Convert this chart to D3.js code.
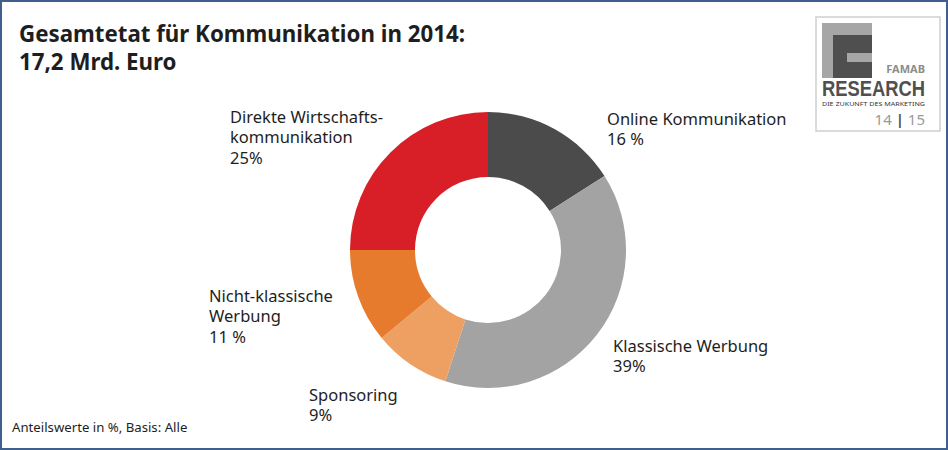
<!DOCTYPE html>
<html>
<head>
<meta charset="utf-8">
<script src="https://cdn.jsdelivr.net/npm/d3@7"></script>
<style>
  body { margin: 0; background: #fff; }
  svg { display: block; }
  text { font-family: "Noto Sans", "Open Sans", sans-serif; fill: #1e1e1e; }
</style>
</head>
<body>
<svg></svg>
<script>
// shares of the total budget, clockwise from 12 o'clock
var categories = ["Online Kommunikation", "Klassische Werbung", "Sponsoring",
                  "Nicht-klassische Werbung", "Direkte Wirtschaftskommunikation"];
var values = [16, 39, 9, 11, 25];
var valueLabels = ["16 %", "39%", "9%", "11 %", "25%"];
// how each label is broken into lines in the picture
var labelLines = [
    ["Online Kommunikation"],
    ["Klassische Werbung"],
    ["Sponsoring"],
    ["Nicht-klassische", "Werbung"],
    ["Direkte Wirtschafts-", "kommunikation"]
];
var colors = ["#4b4b4b", "#a3a3a3", "#ee9f62", "#e77b2d", "#d81f27"];

window.onload = function(){
    var width = 948, height = 450;
    var svg = d3.select("svg")
        .attr("width", width)
        .attr("height", height);

    svg.append("rect")
        .attr("x", 1).attr("y", 1)
        .attr("width", width - 2).attr("height", height - 2)
        .attr("fill", "#fff")
        .attr("stroke", "#3f5f8d")
        .attr("stroke-width", 2);

    // title
    var title = svg.append("text")
        .attr("x", 19).attr("y", 42)
        .style("font-size", "22.3px")
        .style("font-weight", "bold");
    title.append("tspan").attr("x", 19).text("Gesamtetat für Kommunikation in 2014:");
    title.append("tspan").attr("x", 19).attr("dy", 27.5).text("17,2 Mrd. Euro");

    svg.append("text")
        .attr("x", 12).attr("y", 432)
        .style("font-size", "13.2px")
        .text("Anteilswerte in %, Basis: Alle");

    // donut
    var cx = 488, cy = 250;
    var pie = d3.pie().sort(null).value(function(d){ return d; });
    var arc = d3.arc().innerRadius(73).outerRadius(138);

    var g = svg.append("g").attr("transform", "translate(" + cx + "," + cy + ")");
    g.selectAll("path")
        .data(pie(values)).enter()
        .append("path")
        .attr("d", arc)
        .attr("fill", function(d, i){ return colors[i]; });

    // label anchors (left x, first baseline) as placed in the picture
    var labelPos = [[607, 125], [613, 352], [309, 401], [209, 302], [230, 123]];
    var lineH = 20.3;
    labelLines.forEach(function(lines, i){
        var t = svg.append("text")
            .attr("x", labelPos[i][0])
            .attr("y", labelPos[i][1])
            .style("font-size", "16.5px");
        lines.concat([valueLabels[i]]).forEach(function(s, j){
            t.append("tspan")
                .attr("x", labelPos[i][0])
                .attr("dy", j == 0 ? 0 : lineH)
                .text(s);
        });
    });

    // FAMAB Research logo
    var logo = svg.append("g");
    logo.append("rect")
        .attr("x", 816).attr("y", 17)
        .attr("width", 124).attr("height", 114)
        .attr("fill", "#fff")
        .attr("stroke", "#cfcfcf")
        .attr("stroke-width", 1.5);
    logo.append("rect").attr("x", 822).attr("y", 23).attr("width", 50).attr("height", 55).attr("fill", "#a6a6a6");
    logo.append("rect").attr("x", 833).attr("y", 35).attr("width", 39).attr("height", 43).attr("fill", "#4f4f4f");
    logo.append("rect").attr("x", 847).attr("y", 53).attr("width", 25).attr("height", 9).attr("fill", "#a6a6a6");
    logo.append("text")
        .attr("x", 925).attr("y", 73)
        .attr("text-anchor", "end")
        .style("font-size", "11px").style("font-weight", "bold")
        .style("fill", "#8c8c8c")
        .text("FAMAB");
    logo.append("text")
        .attr("x", 822).attr("y", 96)
        .attr("textLength", 103).attr("lengthAdjust", "spacingAndGlyphs")
        .style("font-family", "'Liberation Sans Narrow', 'Liberation Sans', sans-serif")
        .style("font-size", "22px").style("font-weight", "bold")
        .style("fill", "#505050")
        .text("RESEARCH");
    logo.append("text")
        .attr("x", 822).attr("y", 105.5)
        .attr("textLength", 103).attr("lengthAdjust", "spacingAndGlyphs")
        .style("font-size", "6px")
        .style("fill", "#333")
        .text("DIE ZUKUNFT DES MARKETING");
    var yr = logo.append("text")
        .attr("x", 925).attr("y", 125)
        .attr("text-anchor", "end")
        .style("font-size", "15px")
        .style("fill", "#9a9a9a");
    yr.append("tspan").text("14 ");
    yr.append("tspan").style("font-weight", "bold").style("fill", "#505050").text("|");
    yr.append("tspan").text(" 15");
};
</script>
</body>
</html>
